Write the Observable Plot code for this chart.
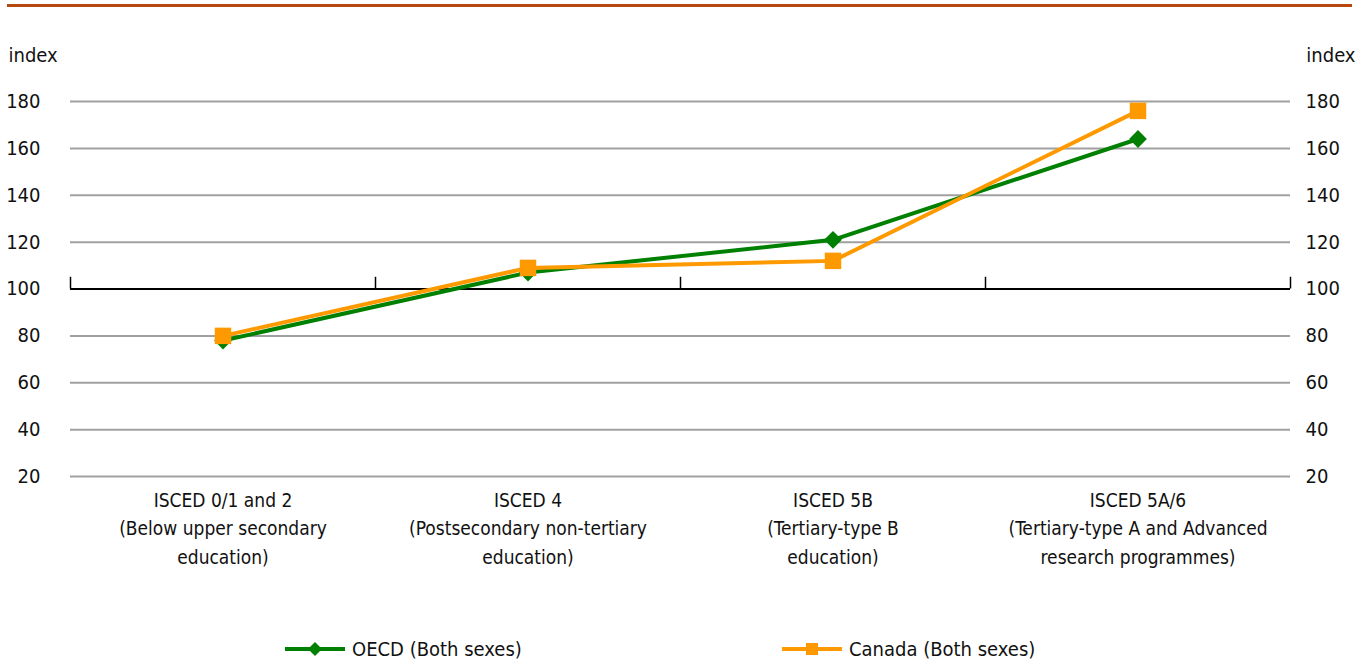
<!DOCTYPE html>
<html>
<head>
<meta charset="utf-8">
<script src="https://cdn.jsdelivr.net/npm/d3@7"></script>
<script src="https://cdn.jsdelivr.net/npm/@observablehq/plot@0.6"></script>
<style>
  html, body { margin: 0; padding: 0; background: #fff; }
  body { width: 1367px; height: 666px; position: relative; overflow: hidden;
         font-family: "Liberation Sans Narrow", "DejaVu Sans Condensed", sans-serif; color: #111; }
  #bar { position: absolute; left: 7px; top: 4px; width: 1345px; height: 3px; background: #b5470f; }
  #chart { position: absolute; left: 0; top: 0; }
  .leg { position: absolute; top: 637px; height: 24px; display: flex; align-items: center; font-size: 20px; }
  .leg svg { margin-right: 7px; }
</style>
</head>
<body>
<div id="bar"></div>
<div id="chart"></div>
<div class="leg" id="leg1" style="left:285px"></div>
<div class="leg" id="leg2" style="left:782px"></div>
<script>
const categories = [
  "ISCED 0/1 and 2\n(Below upper secondary\neducation)",
  "ISCED 4\n(Postsecondary non-tertiary\neducation)",
  "ISCED 5B\n(Tertiary-type B\neducation)",
  "ISCED 5A/6\n(Tertiary-type A and Advanced\nresearch programmes)"
];
const oecd = [78, 107, 121, 164];
const canada = [80, 109, 112, 176];
const yTicks = [20, 40, 60, 80, 100, 120, 140, 160, 180];
const seriesNames = ["OECD (Both sexes)", "Canada (Both sexes)"];
const colors = ["#008000", "#ff9900"];

const rows = categories.flatMap((c, i) => [
  {series: seriesNames[0], i: i + 0.5, v: oecd[i]},
  {series: seriesNames[1], i: i + 0.5, v: canada[i]}
]);
const oecdRows = rows.filter(d => d.series === seriesNames[0]);
const canRows = rows.filter(d => d.series === seriesNames[1]);

const font = '"Liberation Sans Narrow", "DejaVu Sans Condensed", sans-serif';

const chart = Plot.plot({
  width: 1367,
  height: 620,
  marginTop: 101,
  marginBottom: 144,
  marginLeft: 70,
  marginRight: 77,
  style: {fontFamily: font, fontSize: "20px", color: "#111", background: "transparent"},
  x: {domain: [0, 4]},
  y: {domain: [20, 180]},
  marks: [
    Plot.ruleY(yTicks.filter(t => t !== 100), {stroke: "#a0a0a0", strokeWidth: 2}),
    Plot.axisY({anchor: "left", ticks: yTicks, tickSize: 0, tickPadding: 30, label: null, fontSize: 20}),
    Plot.axisY({anchor: "right", ticks: yTicks, tickSize: 0, tickPadding: 15, label: null, fontSize: 20}),
    Plot.axisX({ticks: categories.map((c, i) => i + 0.5), tickFormat: t => categories[Math.floor(t)],
      tickSize: 0, tickPadding: 10, label: null, fontSize: 19, lineHeight: 1.5}),
    Plot.text(["index"], {frameAnchor: "top-left", dx: -62, dy: -54, textAnchor: "start", fontSize: 20}),
    Plot.text(["index"], {frameAnchor: "top-right", dx: 65, dy: -54, textAnchor: "end", fontSize: 20}),
    Plot.ruleY([100], {stroke: "#000", strokeWidth: 2}),
    Plot.ruleX([0, 1, 2, 3, 4], {y1: 100, y2: 105, stroke: "#000", strokeWidth: 1.5}),
    Plot.line(oecdRows, {x: "i", y: "v", stroke: colors[0], strokeWidth: 4}),
    Plot.dot(oecdRows, {x: "i", y: "v", symbol: "diamond2", r: 8, fill: colors[0], stroke: "none"}),
    Plot.line(canRows, {x: "i", y: "v", stroke: colors[1], strokeWidth: 4}),
    Plot.dot(canRows, {x: "i", y: "v", symbol: "square", r: 9.3, fill: colors[1], stroke: "none"})
  ]
});
document.getElementById("chart").appendChild(chart);

function swatch(color, symbol) {
  const shape = symbol === "diamond"
    ? `<path d="M30,5 L37,12 L30,19 L23,12 Z" fill="${color}"/>`
    : `<rect x="24" y="6" width="12" height="12" fill="${color}"/>`;
  return `<svg width="60" height="24"><line x1="0" x2="60" y1="12" y2="12" stroke="${color}" stroke-width="4"/>${shape}</svg>`;
}
document.getElementById("leg1").innerHTML = swatch(colors[0], "diamond") + `<span>${seriesNames[0]}</span>`;
document.getElementById("leg2").innerHTML = swatch(colors[1], "square") + `<span>${seriesNames[1]}</span>`;
</script>
</body>
</html>
